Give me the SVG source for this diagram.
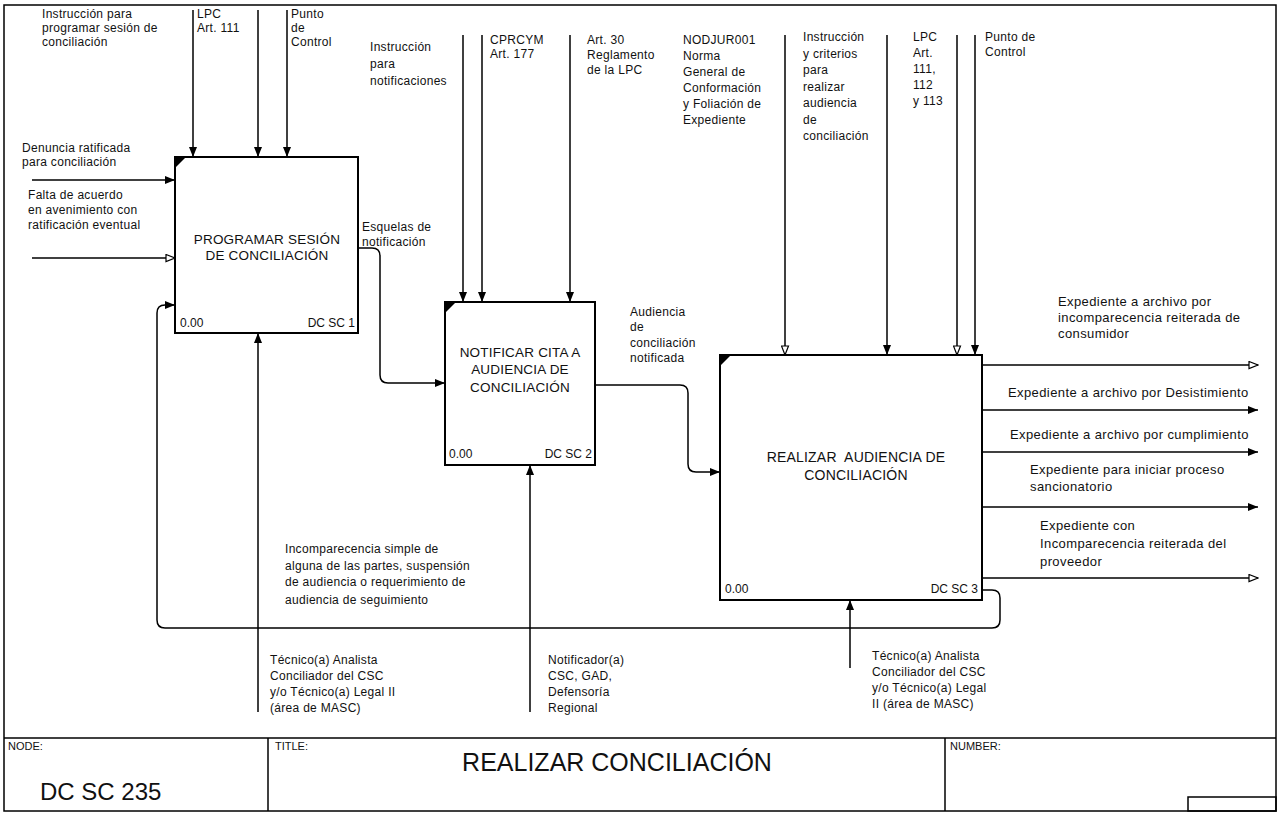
<svg xmlns="http://www.w3.org/2000/svg" width="1279" height="816" viewBox="0 0 1279 816">
  <defs>
    <marker id="arrowFilled" viewBox="0 0 10 8" refX="10" refY="4" markerWidth="10" markerHeight="8" markerUnits="userSpaceOnUse" orient="auto">
      <path d="M0,0 L10,4 L0,8 z" fill="#000"/>
    </marker>
    <marker id="arrowOpen" viewBox="0 0 11 9" refX="10" refY="4.5" markerWidth="11" markerHeight="9" markerUnits="userSpaceOnUse" orient="auto">
      <path d="M1,1 L10,4.5 L1,8 z" fill="#fff" stroke="#000" stroke-width="1.2"/>
    </marker>
  </defs>
  <style>
    text { font-family: "Liberation Sans", Arial, sans-serif; fill: #111; }
    .lbl { font-size: 12px; letter-spacing: 0.3px; }
    .out { font-size: 13px; letter-spacing: 0.4px; }
    .ttl { font-size: 13.5px; text-anchor: middle; letter-spacing: 0.2px; }
    .num { font-size: 12px; }
    .num-r { font-size: 12px; text-anchor: end; }
    .frame { fill: none; stroke: #000; stroke-width: 1.5; }
    .box { fill: #fff; stroke: #000; stroke-width: 2; }
    .corner { fill: #000; }
    .flow { fill: none; stroke: #000; stroke-width: 1.5; }
    .solid { marker-end: url(#arrowFilled); }
    .hollow { marker-end: url(#arrowOpen); }
    .ft-small { font-size: 11px; }
    .ft-big { font-size: 24px; }
    .ft-title { font-size: 25px; text-anchor: middle; }
  </style>

  <rect width="1279" height="816" fill="#fff"/>

  <!-- drawing frame and title block -->
  <g id="frame">
    <rect class="frame" x="4" y="5" width="1272" height="806"/>
    <line class="frame" x1="4" y1="738" x2="1276" y2="738"/>
    <line class="frame" x1="268" y1="738" x2="268" y2="811"/>
    <line class="frame" x1="945" y1="738" x2="945" y2="811"/>
    <rect class="frame" x="1188" y="797" width="88" height="14"/>
    <text class="ft-small" x="8" y="750">NODE:</text>
    <text class="ft-big" x="40" y="800">DC SC 235</text>
    <text class="ft-small" x="275" y="750">TITLE:</text>
    <text class="ft-title" x="617" y="771">REALIZAR CONCILIACIÓN</text>
    <text class="ft-small" x="950" y="750">NUMBER:</text>
  </g>

  <!-- connectors -->
  <g id="connectors">
    <!-- controls of box 1 -->
    <line class="flow solid" x1="193" y1="10" x2="193" y2="157"/>
    <line class="flow solid" x1="258" y1="10" x2="258" y2="157"/>
    <line class="flow solid" x1="287" y1="10" x2="287" y2="157"/>
    <!-- inputs of box 1 -->
    <line class="flow solid" x1="32" y1="180" x2="175" y2="180"/>
    <line class="flow hollow" x1="32" y1="258" x2="175" y2="258"/>
    <!-- feedback loop from box 3 back to box 1 -->
    <path class="flow solid" d="M982,590 H992 Q1000,590 1000,598 V620 Q1000,628 992,628 H165 Q157,628 157,620 V313 Q157,305 165,305 H175"/>
    <!-- box 1 output to box 2 -->
    <path class="flow solid" d="M358,248 H372 Q380,248 380,256 V375 Q380,383 388,383 H445"/>
    <!-- mechanism of box 1 -->
    <line class="flow solid" x1="258" y1="712" x2="258" y2="333"/>

    <!-- controls of box 2 -->
    <line class="flow solid" x1="463" y1="35" x2="463" y2="302"/>
    <line class="flow solid" x1="482" y1="35" x2="482" y2="302"/>
    <line class="flow solid" x1="570" y1="35" x2="570" y2="302"/>
    <!-- box 2 output to box 3 -->
    <path class="flow solid" d="M595,385 H680 Q688,385 688,393 V464 Q688,472 696,472 H720"/>
    <!-- mechanism of box 2 -->
    <line class="flow solid" x1="530" y1="712" x2="530" y2="465"/>

    <!-- controls of box 3 -->
    <line class="flow hollow" x1="785" y1="35" x2="785" y2="355"/>
    <line class="flow solid" x1="887" y1="35" x2="887" y2="355"/>
    <line class="flow hollow" x1="957" y1="35" x2="957" y2="355"/>
    <line class="flow solid" x1="975" y1="35" x2="975" y2="355"/>
    <!-- outputs of box 3 -->
    <line class="flow hollow" x1="982" y1="365" x2="1258" y2="365"/>
    <line class="flow solid" x1="982" y1="410" x2="1258" y2="410"/>
    <line class="flow solid" x1="982" y1="452" x2="1258" y2="452"/>
    <line class="flow solid" x1="982" y1="507" x2="1258" y2="507"/>
    <line class="flow hollow" x1="982" y1="578" x2="1258" y2="578"/>
    <!-- mechanism of box 3 -->
    <line class="flow solid" x1="850" y1="668" x2="850" y2="600"/>
  </g>

  <!-- arrow labels -->
  <g id="labels">
    <text class="lbl" x="42" y="18">Instrucción para</text>
    <text class="lbl" x="42" y="32">programar sesión de</text>
    <text class="lbl" x="42" y="46">conciliación</text>
    <text class="lbl" x="197" y="18">LPC</text>
    <text class="lbl" x="197" y="32">Art. 111</text>
    <text class="lbl" x="291" y="18">Punto</text>
    <text class="lbl" x="291" y="32">de</text>
    <text class="lbl" x="291" y="46">Control</text>

    <text class="lbl" x="22" y="152">Denuncia ratificada</text>
    <text class="lbl" x="22" y="166">para conciliación</text>
    <text class="lbl" x="28" y="199">Falta de acuerdo</text>
    <text class="lbl" x="28" y="214">en avenimiento con</text>
    <text class="lbl" x="28" y="229">ratificación eventual</text>

    <text class="lbl" x="362" y="231">Esquelas de</text>
    <text class="lbl" x="362" y="246">notificación</text>

    <text class="lbl" x="370" y="51">Instrucción</text>
    <text class="lbl" x="370" y="68">para</text>
    <text class="lbl" x="370" y="85">notificaciones</text>
    <text class="lbl" x="490" y="44">CPRCYM</text>
    <text class="lbl" x="490" y="58">Art. 177</text>
    <text class="lbl" x="587" y="44">Art. 30</text>
    <text class="lbl" x="587" y="59">Reglamento</text>
    <text class="lbl" x="587" y="74">de la LPC</text>

    <text class="lbl" x="630" y="316">Audiencia</text>
    <text class="lbl" x="630" y="331">de</text>
    <text class="lbl" x="630" y="347">conciliación</text>
    <text class="lbl" x="630" y="362">notificada</text>

    <text class="lbl" x="683" y="44">NODJUR001</text>
    <text class="lbl" x="683" y="60">Norma</text>
    <text class="lbl" x="683" y="76">General de</text>
    <text class="lbl" x="683" y="92">Conformación</text>
    <text class="lbl" x="683" y="108">y Foliación de</text>
    <text class="lbl" x="683" y="124">Expediente</text>

    <text class="lbl" x="803" y="41">Instrucción</text>
    <text class="lbl" x="803" y="57.5">y criterios</text>
    <text class="lbl" x="803" y="74">para</text>
    <text class="lbl" x="803" y="90.5">realizar</text>
    <text class="lbl" x="803" y="107">audiencia</text>
    <text class="lbl" x="803" y="123.5">de</text>
    <text class="lbl" x="803" y="140">conciliación</text>

    <text class="lbl" x="913" y="41">LPC</text>
    <text class="lbl" x="913" y="57">Art.</text>
    <text class="lbl" x="913" y="73">111,</text>
    <text class="lbl" x="913" y="89">112</text>
    <text class="lbl" x="913" y="105">y 113</text>

    <text class="lbl" x="985" y="41">Punto de</text>
    <text class="lbl" x="985" y="56">Control</text>

    <text class="out" x="1058" y="306">Expediente a archivo por</text>
    <text class="out" x="1058" y="322">incomparecencia reiterada de</text>
    <text class="out" x="1058" y="338">consumidor</text>
    <text class="out" x="1008" y="397">Expediente a archivo por Desistimiento</text>
    <text class="out" x="1010" y="439">Expediente a archivo por cumplimiento</text>
    <text class="out" x="1030" y="474">Expediente para iniciar proceso</text>
    <text class="out" x="1030" y="491">sancionatorio</text>
    <text class="out" x="1040" y="530">Expediente con</text>
    <text class="out" x="1040" y="548">Incomparecencia reiterada del</text>
    <text class="out" x="1040" y="566">proveedor</text>

    <text class="lbl" x="285" y="553">Incomparecencia simple de</text>
    <text class="lbl" x="285" y="570">alguna de las partes, suspensión</text>
    <text class="lbl" x="285" y="586">de audiencia o requerimiento de</text>
    <text class="lbl" x="285" y="604">audiencia de seguimiento</text>

    <text class="lbl" x="270" y="664">Técnico(a) Analista</text>
    <text class="lbl" x="270" y="680">Conciliador del CSC</text>
    <text class="lbl" x="270" y="696">y/o Técnico(a) Legal II</text>
    <text class="lbl" x="270" y="712">(área de MASC)</text>

    <text class="lbl" x="548" y="664">Notificador(a)</text>
    <text class="lbl" x="548" y="680">CSC, GAD,</text>
    <text class="lbl" x="548" y="696">Defensoría</text>
    <text class="lbl" x="548" y="712">Regional</text>

    <text class="lbl" x="872" y="660">Técnico(a) Analista</text>
    <text class="lbl" x="872" y="676">Conciliador del CSC</text>
    <text class="lbl" x="872" y="692">y/o Técnico(a) Legal</text>
    <text class="lbl" x="872" y="708">II (área de MASC)</text>
  </g>

  <!-- activity boxes -->
  <g id="box-dcsc1">
    <rect class="box" x="175" y="157" width="183" height="176"/>
    <path class="corner" d="M176,158 h9 L176,167 z"/>
    <text class="ttl" x="267" y="244">PROGRAMAR SESIÓN</text>
    <text class="ttl" x="267" y="260">DE CONCILIACIÓN</text>
    <text class="num" x="180" y="327">0.00</text>
    <text class="num-r" x="355" y="327">DC SC 1</text>
  </g>

  <g id="box-dcsc2">
    <rect class="box" x="445" y="302" width="150" height="163"/>
    <path class="corner" d="M446,303 h9 L446,312 z"/>
    <text class="ttl" x="520" y="357">NOTIFICAR CITA A</text>
    <text class="ttl" x="520" y="374">AUDIENCIA DE</text>
    <text class="ttl" x="520" y="392">CONCILIACIÓN</text>
    <text class="num" x="449" y="458">0.00</text>
    <text class="num-r" x="592" y="458">DC SC 2</text>
  </g>

  <g id="box-dcsc3">
    <rect class="box" x="720" y="355" width="262" height="245"/>
    <path class="corner" d="M721,356 h9 L721,365 z"/>
    <text class="ttl" x="856" y="462" style="font-size:14px; white-space:pre">REALIZAR  AUDIENCIA DE</text>
    <text class="ttl" x="856" y="480" style="font-size:14px">CONCILIACIÓN</text>
    <text class="num" x="725" y="593">0.00</text>
    <text class="num-r" x="978" y="593">DC SC 3</text>
  </g>
</svg>
